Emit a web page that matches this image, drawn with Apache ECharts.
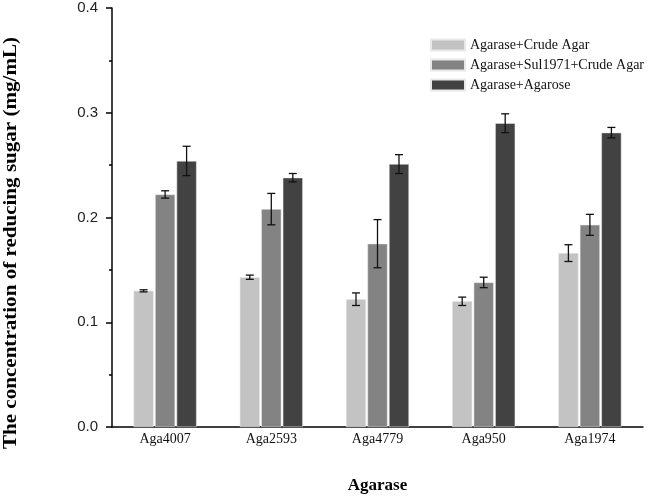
<!DOCTYPE html>
<html>
<head>
<meta charset="utf-8">
<script src="https://cdn.jsdelivr.net/npm/echarts@6/dist/echarts.min.js"></script>
<style>html,body{margin:0;padding:0;background:#fff}#c{width:650px;height:496px}</style>
</head>
<body>
<div id="c"></div>
<script>
var categories = ['Aga4007', 'Aga2593', 'Aga4779', 'Aga950', 'Aga1974'];
var seriesNames = ['Agarase+Crude Agar', 'Agarase+Sul1971+Crude Agar', 'Agarase+Agarose'];
var crudeAgar = [0.130, 0.143, 0.122, 0.120, 0.166];
var crudeAgarErr = [0.001, 0.002, 0.006, 0.004, 0.008];
var sulCrudeAgar = [0.222, 0.208, 0.175, 0.138, 0.193];
var sulCrudeAgarErr = [0.0035, 0.015, 0.023, 0.005, 0.010];
var agarose = [0.254, 0.238, 0.251, 0.290, 0.281];
var agaroseErr = [0.014, 0.004, 0.009, 0.009, 0.005];
var yTicks = [0, 0.1, 0.2, 0.3, 0.4];

var colors = ['#c3c3c3', '#838383', '#424242'];
var BAR_W = 20, BAR_GAP = 1.5;
var values = [crudeAgar, sulCrudeAgar, agarose];
var errs = [crudeAgarErr, sulCrudeAgarErr, agaroseErr];

function errSeries(k) {
  var data = categories.map(function (c, i) { return [i, values[k][i], errs[k][i]]; });
  return {
    type: 'custom',
    name: seriesNames[k] + ' err',
    z: 10,
    data: data,
    encode: { x: 0, y: 1 },
    renderItem: function (params, api) {
      var i = api.value(0), v = api.value(1), e = api.value(2);
      var off = (k - 1) * (BAR_W + BAR_GAP);
      var top = api.coord([i, v + e]);
      var bot = api.coord([i, v - e]);
      var x = top[0] + off;
      var cap = 4;
      var st = { stroke: '#111', lineWidth: 1.3 };
      return {
        type: 'group',
        children: [
          { type: 'line', shape: { x1: x, y1: top[1], x2: x, y2: bot[1] }, style: st },
          { type: 'line', shape: { x1: x - cap, y1: top[1], x2: x + cap, y2: top[1] }, style: st },
          { type: 'line', shape: { x1: x - cap, y1: bot[1], x2: x + cap, y2: bot[1] }, style: st }
        ]
      };
    }
  };
}

var barSeries = values.map(function (arr, k) {
  return {
    type: 'bar',
    name: seriesNames[k],
    data: arr,
    barWidth: BAR_W,
    barGap: (BAR_GAP / BAR_W * 100) + '%',
    itemStyle: { color: colors[k], borderColor: '#e8e8e8', borderWidth: 0.5 },
    emphasis: { disabled: true }
  };
});

var chart = echarts.init(document.getElementById('c'), null, { renderer: 'canvas' });
chart.setOption({
  animation: false,
  backgroundColor: '#fff',
  grid: { left: 112, right: 7, top: 8, bottom: 69, containLabel: false, outerBoundsMode: 'none' },
  legend: {
    data: seriesNames,
    orient: 'vertical',
    left: 430,
    top: 38,
    padding: 0,
    itemWidth: 34,
    itemHeight: 11,
    itemGap: 6,
    icon: 'rect',
    textStyle: { fontFamily: 'Liberation Serif', fontSize: 14, color: '#111', lineHeight: 14 }
  },
  xAxis: {
    type: 'category',
    data: categories,
    axisLine: { lineStyle: { color: '#000', width: 1.5 } },
    axisTick: { show: false },
    axisLabel: { fontFamily: 'Liberation Serif', fontSize: 14, color: '#111', margin: 5 },
    name: 'Agarase',
    nameLocation: 'middle',
    nameGap: 50,
    nameTextStyle: { fontFamily: 'Liberation Serif', fontSize: 17, fontWeight: 'bold', color: '#000' }
  },
  yAxis: {
    type: 'value',
    min: yTicks[0],
    max: yTicks[yTicks.length - 1],
    interval: 0.1,
    splitLine: { show: false },
    axisLine: { show: true, lineStyle: { color: '#000', width: 1.5 } },
    axisTick: { show: true, inside: false, length: 6, lineStyle: { color: '#000', width: 1.5 } },
    minorTick: { show: true, splitNumber: 2, length: 3, lineStyle: { color: '#000', width: 1.5 } },
    axisLabel: { fontFamily: 'Liberation Sans', fontSize: 15, color: '#222', margin: 14,
      formatter: function (v) { return v.toFixed(1); } }
  },
  graphic: [{
    type: 'text',
    x: 11,
    y: 243,
    rotation: Math.PI / 2,
    scaleX: 1.17,
    style: {
      text: 'The concentration of reducing sugar (mg/mL)',
      fontFamily: 'Liberation Serif',
      fontSize: 18,
      fontWeight: 'bold',
      fill: '#000',
      textAlign: 'center',
      textVerticalAlign: 'middle'
    }
  }],
  series: barSeries.concat([errSeries(0), errSeries(1), errSeries(2)])
});
</script>
</body>
</html>
